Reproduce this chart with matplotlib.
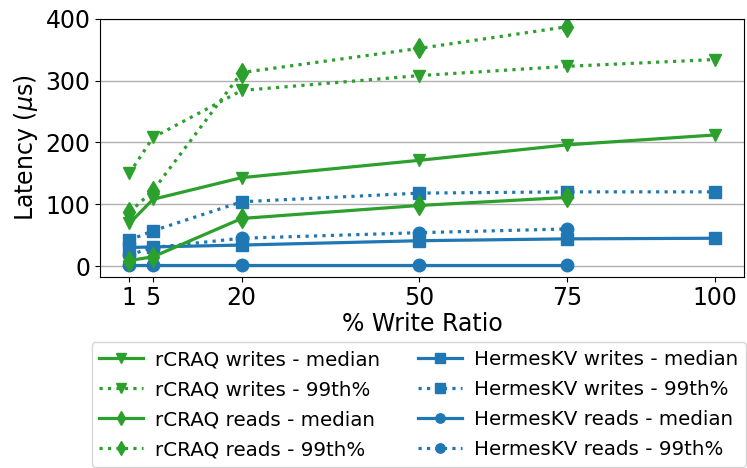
import matplotlib
matplotlib.use('Agg')
import matplotlib.pyplot as plt

write_ratio = [1, 5, 20, 50, 75, 100]
write_ratio_reads = [1, 5, 20, 50, 75]

rcraq_writes_median = [69, 108, 143, 171, 196, 212]
rcraq_writes_p99 = [150, 208, 284, 308, 323, 334]
rcraq_reads_median = [9, 15, 77, 98, 111]
rcraq_reads_p99 = [87, 122, 313, 352, 387]

hermes_writes_median = [30, 31, 34, 41, 44, 45]
hermes_writes_p99 = [42, 57, 104, 118, 120, 120]
hermes_reads_median = [2, 2, 2, 2, 2]
hermes_reads_p99 = [18, 30, 45, 54, 60]

green = '#2ca02c'
blue = '#1f77b4'
lw = 2.3
ms = 9

fig = plt.figure(figsize=(7.47, 4.68), dpi=100)
ax = fig.add_axes([0.134, 0.409, 0.862, 0.551])

h_hw = ax.plot(write_ratio, hermes_writes_median, color=blue, marker='s', ls='-', lw=lw, ms=ms, label='HermesKV writes - median')[0]
h_hw99 = ax.plot(write_ratio, hermes_writes_p99, color=blue, marker='s', ls=':', lw=lw, ms=ms, label='HermesKV writes - 99th%')[0]
h_hr = ax.plot(write_ratio_reads, hermes_reads_median, color=blue, marker='o', ls='-', lw=lw, ms=ms, label='HermesKV reads - median')[0]
h_hr99 = ax.plot(write_ratio_reads, hermes_reads_p99, color=blue, marker='o', ls=':', lw=lw, ms=ms, label='HermesKV reads - 99th%')[0]

h_cw = ax.plot(write_ratio, rcraq_writes_median, color=green, marker='v', ls='-', lw=lw, ms=ms, label='rCRAQ writes - median')[0]
h_cw99 = ax.plot(write_ratio, rcraq_writes_p99, color=green, marker='v', ls=':', lw=lw, ms=ms, label='rCRAQ writes - 99th%')[0]
h_cr = ax.plot(write_ratio_reads, rcraq_reads_median, color=green, marker='d', ls='-', lw=lw, ms=ms + 1, label='rCRAQ reads - median')[0]
h_cr99 = ax.plot(write_ratio_reads, rcraq_reads_p99, color=green, marker='d', ls=':', lw=lw, ms=ms + 1, label='rCRAQ reads - 99th%')[0]

ax.set_ylim(-17, 400)
ax.set_xticks(write_ratio)
ax.set_yticks([0, 100, 200, 300, 400])
ax.tick_params(labelsize=17)
ax.yaxis.grid(True, color='#b0b0b0', lw=1)
ax.set_axisbelow(True)
ax.set_xlabel('% Write Ratio', fontsize=17, labelpad=1)
ax.set_ylabel(r'Latency ($\mu$s)', fontsize=17)

handles = [h_cw, h_cw99, h_cr, h_cr99, h_hw, h_hw99, h_hr, h_hr99]
fig.legend(handles=handles, ncol=2, fontsize=14.3, loc='lower left',
           bbox_to_anchor=(0.1225, 0.002), handlelength=2.2, handletextpad=0.6,
           columnspacing=1.9, labelspacing=0.55, markerscale=0.75,
           borderaxespad=0)

fig.savefig('out.png', dpi=100)
